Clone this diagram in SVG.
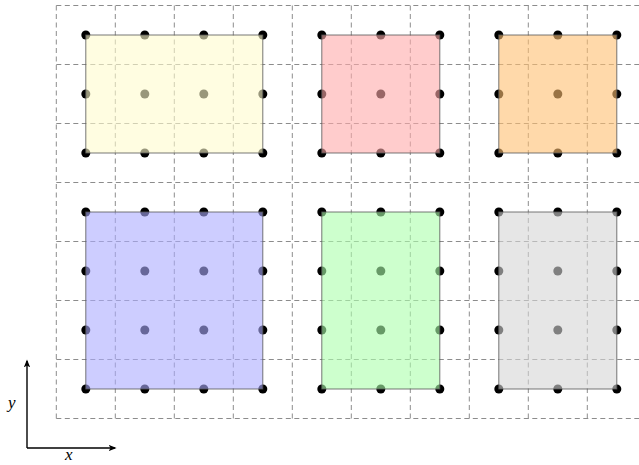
<svg xmlns="http://www.w3.org/2000/svg" width="639" height="465" viewBox="0 0 639 465">
<defs>
<style>
.grid line{stroke:#8c8c8c;stroke-width:1;stroke-dasharray:5 3.5;fill:none}
.dot{fill:#000}
.box{stroke:#555;stroke-opacity:0.8;stroke-width:1;fill-opacity:0.6}
.lbl{font-family:"Liberation Serif",serif;font-style:italic;font-size:17px;fill:#000}
.ax{stroke:#000;stroke-width:1.4;fill:none}
</style>
<marker id="ah" viewBox="0 0 10 10" refX="8" refY="5" markerWidth="8" markerHeight="8" markerUnits="userSpaceOnUse" orient="auto">
<path d="M0,1 L10,5 L0,9 L2.5,5 Z" fill="#000"/>
</marker>
</defs>
<rect width="639" height="465" fill="#fff"/>
<g class="grid" id="grid">
<line x1="56.3" y1="5.5" x2="646.3" y2="5.5"/>
<line x1="56.3" y1="64.5" x2="646.3" y2="64.5"/>
<line x1="56.3" y1="123.5" x2="646.3" y2="123.5"/>
<line x1="56.3" y1="182.5" x2="646.3" y2="182.5"/>
<line x1="56.3" y1="241.5" x2="646.3" y2="241.5"/>
<line x1="56.3" y1="300.5" x2="646.3" y2="300.5"/>
<line x1="56.3" y1="359.5" x2="646.3" y2="359.5"/>
<line x1="56.3" y1="418.5" x2="646.3" y2="418.5"/>
<line x1="56.3" y1="5.5" x2="56.3" y2="418.5"/>
<line x1="115.3" y1="5.5" x2="115.3" y2="418.5"/>
<line x1="174.3" y1="5.5" x2="174.3" y2="418.5"/>
<line x1="233.3" y1="5.5" x2="233.3" y2="418.5"/>
<line x1="292.3" y1="5.5" x2="292.3" y2="418.5"/>
<line x1="351.3" y1="5.5" x2="351.3" y2="418.5"/>
<line x1="410.3" y1="5.5" x2="410.3" y2="418.5"/>
<line x1="469.3" y1="5.5" x2="469.3" y2="418.5"/>
<line x1="528.3" y1="5.5" x2="528.3" y2="418.5"/>
<line x1="587.3" y1="5.5" x2="587.3" y2="418.5"/>
</g>
<g id="dots">
<g id="dots-yellow">
<circle class="dot" cx="85.8" cy="35" r="4.5"/><circle class="dot" cx="144.8" cy="35" r="4.5"/><circle class="dot" cx="203.8" cy="35" r="4.5"/><circle class="dot" cx="262.8" cy="35" r="4.5"/>
<circle class="dot" cx="85.8" cy="94" r="4.5"/><circle class="dot" cx="144.8" cy="94" r="4.5"/><circle class="dot" cx="203.8" cy="94" r="4.5"/><circle class="dot" cx="262.8" cy="94" r="4.5"/>
<circle class="dot" cx="85.8" cy="153" r="4.5"/><circle class="dot" cx="144.8" cy="153" r="4.5"/><circle class="dot" cx="203.8" cy="153" r="4.5"/><circle class="dot" cx="262.8" cy="153" r="4.5"/>
</g>
<g id="dots-red">
<circle class="dot" cx="321.8" cy="35" r="4.5"/><circle class="dot" cx="380.8" cy="35" r="4.5"/><circle class="dot" cx="439.8" cy="35" r="4.5"/>
<circle class="dot" cx="321.8" cy="94" r="4.5"/><circle class="dot" cx="380.8" cy="94" r="4.5"/><circle class="dot" cx="439.8" cy="94" r="4.5"/>
<circle class="dot" cx="321.8" cy="153" r="4.5"/><circle class="dot" cx="380.8" cy="153" r="4.5"/><circle class="dot" cx="439.8" cy="153" r="4.5"/>
</g>
<g id="dots-orange">
<circle class="dot" cx="498.8" cy="35" r="4.5"/><circle class="dot" cx="557.8" cy="35" r="4.5"/><circle class="dot" cx="616.8" cy="35" r="4.5"/>
<circle class="dot" cx="498.8" cy="94" r="4.5"/><circle class="dot" cx="557.8" cy="94" r="4.5"/><circle class="dot" cx="616.8" cy="94" r="4.5"/>
<circle class="dot" cx="498.8" cy="153" r="4.5"/><circle class="dot" cx="557.8" cy="153" r="4.5"/><circle class="dot" cx="616.8" cy="153" r="4.5"/>
</g>
<g id="dots-blue">
<circle class="dot" cx="85.8" cy="212" r="4.5"/><circle class="dot" cx="144.8" cy="212" r="4.5"/><circle class="dot" cx="203.8" cy="212" r="4.5"/><circle class="dot" cx="262.8" cy="212" r="4.5"/>
<circle class="dot" cx="85.8" cy="271" r="4.5"/><circle class="dot" cx="144.8" cy="271" r="4.5"/><circle class="dot" cx="203.8" cy="271" r="4.5"/><circle class="dot" cx="262.8" cy="271" r="4.5"/>
<circle class="dot" cx="85.8" cy="330" r="4.5"/><circle class="dot" cx="144.8" cy="330" r="4.5"/><circle class="dot" cx="203.8" cy="330" r="4.5"/><circle class="dot" cx="262.8" cy="330" r="4.5"/>
<circle class="dot" cx="85.8" cy="389" r="4.5"/><circle class="dot" cx="144.8" cy="389" r="4.5"/><circle class="dot" cx="203.8" cy="389" r="4.5"/><circle class="dot" cx="262.8" cy="389" r="4.5"/>
</g>
<g id="dots-green">
<circle class="dot" cx="321.8" cy="212" r="4.5"/><circle class="dot" cx="380.8" cy="212" r="4.5"/><circle class="dot" cx="439.8" cy="212" r="4.5"/>
<circle class="dot" cx="321.8" cy="271" r="4.5"/><circle class="dot" cx="380.8" cy="271" r="4.5"/><circle class="dot" cx="439.8" cy="271" r="4.5"/>
<circle class="dot" cx="321.8" cy="330" r="4.5"/><circle class="dot" cx="380.8" cy="330" r="4.5"/><circle class="dot" cx="439.8" cy="330" r="4.5"/>
<circle class="dot" cx="321.8" cy="389" r="4.5"/><circle class="dot" cx="380.8" cy="389" r="4.5"/><circle class="dot" cx="439.8" cy="389" r="4.5"/>
</g>
<g id="dots-gray">
<circle class="dot" cx="498.8" cy="212" r="4.5"/><circle class="dot" cx="557.8" cy="212" r="4.5"/><circle class="dot" cx="616.8" cy="212" r="4.5"/>
<circle class="dot" cx="498.8" cy="271" r="4.5"/><circle class="dot" cx="557.8" cy="271" r="4.5"/><circle class="dot" cx="616.8" cy="271" r="4.5"/>
<circle class="dot" cx="498.8" cy="330" r="4.5"/><circle class="dot" cx="557.8" cy="330" r="4.5"/><circle class="dot" cx="616.8" cy="330" r="4.5"/>
<circle class="dot" cx="498.8" cy="389" r="4.5"/><circle class="dot" cx="557.8" cy="389" r="4.5"/><circle class="dot" cx="616.8" cy="389" r="4.5"/>
</g>
</g>
<g id="yellow"><rect class="box" x="85.8" y="35" width="177" height="118" fill="#fffccd"/></g>
<g id="red"><rect class="box" x="321.8" y="35" width="118" height="118" fill="#ffaaaa"/></g>
<g id="orange"><rect class="box" x="498.8" y="35" width="118" height="118" fill="#ffbf72"/></g>
<g id="blue"><rect class="box" x="85.8" y="212" width="177" height="177" fill="#acacff"/></g>
<g id="green"><rect class="box" x="321.8" y="212" width="118" height="177" fill="#acffac"/></g>
<g id="gray"><rect class="box" x="498.8" y="212" width="118" height="177" fill="#d5d5d5"/></g>
<g id="axes">
<line class="ax" x1="27" y1="448" x2="27" y2="361" marker-end="url(#ah)"/>
<line class="ax" x1="27" y1="448" x2="115" y2="448" marker-end="url(#ah)"/>
<text class="lbl" x="8" y="408">y</text>
<text class="lbl" x="65" y="460">x</text>
</g>
</svg>
